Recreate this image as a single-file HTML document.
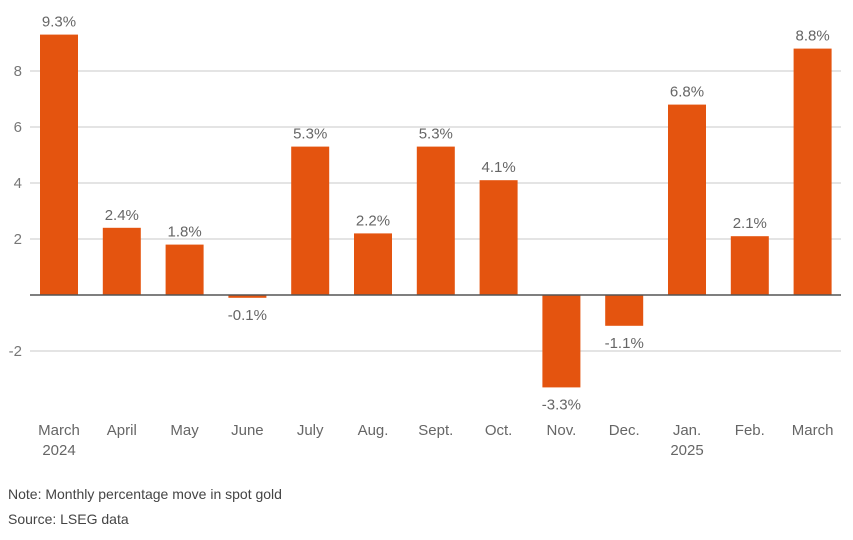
<!DOCTYPE html>
<html><head><meta charset="utf-8"><style>
body{margin:0;background:#fff;font-family:"Liberation Sans",sans-serif;}
svg{display:block}
</style></head><body>
<svg id="chart" width="853" height="540">
<g id="grid"></g><g id="bars"></g><g id="labels"></g>
<text x="8" y="499" font-size="14" fill="#444">Note: Monthly percentage move in spot gold</text>
<text x="8" y="524" font-size="14" fill="#444">Source: LSEG data</text>
</svg>
<script>
const categories=["March","April","May","June","July","Aug.","Sept.","Oct.","Nov.","Dec.","Jan.","Feb.","March"];
const subLabels=["2024","","","","","","","","","","2025","",""];
const values=[9.3,2.4,1.8,-0.1,5.3,2.2,5.3,4.1,-3.3,-1.1,6.8,2.1,8.8];
const valueLabels=["9.3%","2.4%","1.8%","-0.1%","5.3%","2.2%","5.3%","4.1%","-3.3%","-1.1%","6.8%","2.1%","8.8%"];
const ticks=[-2,2,4,6,8];
const NS="http://www.w3.org/2000/svg";
const y=v=>295-v*28;
const x=i=>59+i*62.8;
const bw=38;
function mk(t,a,p){const e=document.createElementNS(NS,t);for(const k in a)e.setAttribute(k,a[k]);document.getElementById(p).appendChild(e);return e;}
ticks.forEach(t=>{
  const l=mk("line",{x1:30,x2:841,y1:y(t),y2:y(t),stroke:"#d4d4d4","stroke-width":1.3},"grid");
  
  
  const tx=mk("text",{x:22,y:y(t)+5,"font-size":15,fill:"#777","text-anchor":"end"},"grid");
  tx.textContent=t;
  
  
});
values.forEach((v,i)=>{
  const r=mk("rect",{x:x(i)-bw/2,y:Math.min(y(v),y(0)),width:bw,height:Math.abs(y(v)-y(0)),fill:"#e4540f"},"bars");
  
  
  const vl=mk("text",{x:x(i),y:v>=0?y(v)-8:y(v)+22,"font-size":15,fill:"#666","text-anchor":"middle"},"labels");
  vl.textContent=valueLabels[i];
  
  
  const cl=mk("text",{x:x(i),y:435,"font-size":15,fill:"#666","text-anchor":"middle"},"labels");
  cl.textContent=categories[i];
  
  
  if(subLabels[i]){
    const sl=mk("text",{x:x(i),y:455,"font-size":15,fill:"#666","text-anchor":"middle"},"labels");
    sl.textContent=subLabels[i];
    
    
  }
});
const z=mk("line",{x1:30,x2:841,y1:y(0),y2:y(0),stroke:"#555","stroke-width":1.5},"labels");


</script>
</body></html>
